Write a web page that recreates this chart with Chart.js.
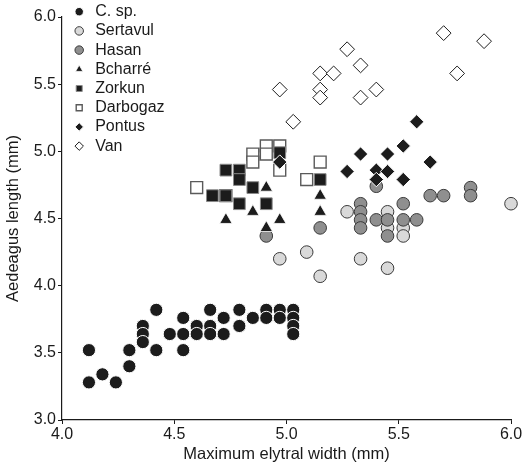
<!DOCTYPE html>
<html>
<head>
<meta charset="utf-8">
<script src="https://cdn.jsdelivr.net/npm/chart.js@4.4.1/dist/chart.umd.min.js"></script>
<style>
  html, body { margin: 0; padding: 0; background: #ffffff; }
  #wrap { width: 524px; height: 464px; }
</style>
</head>
<body>
<div id="wrap"><canvas id="c" width="524" height="464"></canvas></div>
<script>
// ---- data (x = maximum elytral width, y = aedeagus length, mm) ----
const seriesNames = ['C. sp.', 'Sertavul', 'Hasan', 'Bcharré', 'Zorkun', 'Darbogaz', 'Pontus', 'Van'];

const cSp = [[4.12,3.52],[4.12,3.28],[4.18,3.34],[4.24,3.28],[4.30,3.52],[4.30,3.40],[4.36,3.70],[4.36,3.64],[4.36,3.58],
  [4.42,3.82],[4.42,3.52],[4.48,3.64],[4.54,3.76],[4.54,3.64],[4.54,3.52],[4.60,3.70],[4.60,3.64],[4.66,3.82],[4.66,3.70],
  [4.66,3.64],[4.72,3.76],[4.72,3.64],[4.79,3.82],[4.79,3.70],[4.85,3.76],[4.91,3.82],[4.91,3.76],[4.97,3.82],[4.97,3.76],
  [5.03,3.82],[5.03,3.76],[5.03,3.70],[5.03,3.64]];
const sertavul = [[5.27,4.55],[5.09,4.25],[4.97,4.20],[5.15,4.07],[5.33,4.20],[5.45,4.13],[5.45,4.55],[5.45,4.43],
  [5.52,4.43],[5.52,4.37],[6.00,4.61]];
const hasan = [[4.91,4.37],[5.15,4.43],[5.40,4.74],[5.64,4.67],[5.70,4.67],[5.82,4.73],[5.82,4.67],[5.33,4.61],[5.33,4.55],
  [5.33,4.49],[5.33,4.43],[5.40,4.49],[5.45,4.49],[5.45,4.37],[5.52,4.61],[5.52,4.49],[5.58,4.49]];
const bcharre = [[4.73,4.49],[4.85,4.55],[4.91,4.73],[4.91,4.43],[4.97,4.49],[5.15,4.67],[5.15,4.55]];
const zorkun = [[4.73,4.86],[4.79,4.86],[4.79,4.79],[4.67,4.67],[4.73,4.67],[4.79,4.61],[4.85,4.73],[4.91,4.61],[4.97,4.99],[5.15,4.79]];
const darbogaz = [[4.60,4.73],[4.73,4.67],[4.85,4.98],[4.85,4.92],[4.91,5.04],[4.91,4.98],[4.97,5.04],[4.97,4.86],[5.15,4.92],[5.09,4.79]];
const pontus = [[4.97,4.92],[5.27,4.85],[5.33,4.98],[5.45,4.98],[5.52,5.04],[5.40,4.86],[5.45,4.85],[5.40,4.79],[5.52,4.79],[5.64,4.92],[5.58,5.22]];
const van = [[5.70,5.88],[5.88,5.82],[5.76,5.58],[5.27,5.76],[5.33,5.64],[5.15,5.58],[5.21,5.58],[5.15,5.46],[5.15,5.40],
  [4.97,5.46],[5.33,5.40],[5.40,5.46],[5.03,5.22]];

const xTickValues = [4.0, 4.5, 5.0, 5.5, 6.0];
const yTickValues = [3.0, 3.5, 4.0, 4.5, 5.0, 5.5, 6.0];
const xTitle = 'Maximum elytral width (mm)';
const yTitle = 'Aedeagus length (mm)';

// ---- chart ----
const FONT = "'Liberation Sans', Arial, Helvetica, sans-serif";
Chart.defaults.font.family = FONT;
Chart.defaults.font.size = 16;
Chart.defaults.color = '#1a1a1a';

const toPts = arr => arr.map(p => ({ x: p[0], y: p[1] }));

function ds(i, data, style, order) {
  return Object.assign({
    label: seriesNames[i],
    data: toPts(data),
    clip: false,
    order: order,
    pointHoverRadius: 6.5
  }, style);
}

const datasets = [
  ds(0, cSp,      { pointStyle: 'circle',   pointRadius: 6.6, backgroundColor: '#1c1c1c', borderColor: '#ffffff', borderWidth: 1 }, 7),
  ds(1, sertavul, { pointStyle: 'circle',   pointRadius: 6.3, backgroundColor: '#d9d9d9', borderColor: '#3a3a3a', borderWidth: 1 }, 6),
  ds(2, hasan,    { pointStyle: 'circle',   pointRadius: 6.3, backgroundColor: '#8f8f8f', borderColor: '#3a3a3a', borderWidth: 1 }, 5),
  ds(3, bcharre,  { pointStyle: 'triangle', pointRadius: 7.2, backgroundColor: '#1c1c1c', borderColor: '#ffffff', borderWidth: 0.8 }, 2),
  ds(4, zorkun,   { pointStyle: 'rect',     pointRadius: 8.3, backgroundColor: '#1c1c1c', borderColor: '#8a8a8a', borderWidth: 1 }, 1),
  ds(5, darbogaz, { pointStyle: 'rect',     pointRadius: 8.4, backgroundColor: '#ffffff', borderColor: '#5a5a5a', borderWidth: 1.4 }, 3),
  ds(6, pontus,   { pointStyle: 'rectRot',  pointRadius: 7.2, backgroundColor: '#1c1c1c', borderColor: '#ffffff', borderWidth: 1 }, 0),
  ds(7, van,      { pointStyle: 'rectRot',  pointRadius: 7.4, backgroundColor: '#ffffff', borderColor: '#1c1c1c', borderWidth: 1 }, 4)
];

const legendShift = {
  id: 'legendShift',
  afterLayout(chart) {
    if (chart.legend) { chart.legend.left += 6; chart.legend.top += 0.5; }
  }
};

new Chart(document.getElementById('c'), {
  type: 'scatter',
  data: { datasets },
  plugins: [legendShift],
  options: {
    responsive: false,
    animation: false,
    events: [],
    layout: { padding: { left: 0, top: 17, right: 13, bottom: 0 } },
    scales: {
      x: {
        type: 'linear', min: 4, max: 6,
        afterFit(s) { s.height = 44; },
        afterBuildTicks(s) { s.ticks = xTickValues.map(v => ({ value: v })); },
        ticks: { callback: v => Number(v).toFixed(1), padding: 1, color: '#1a1a1a', font: { size: 16 }, maxRotation: 0 },
        grid: { display: true, drawOnChartArea: false, drawTicks: true, tickLength: 4, color: '#1a1a1a', lineWidth: 1 },
        border: { display: true, color: '#1a1a1a', width: 1.2 },
        title: { display: true, text: xTitle, color: '#1a1a1a', font: { size: 16.5 }, padding: { top: 0, bottom: 0 } }
      },
      y: {
        type: 'linear', min: 3, max: 6,
        afterFit(s) { s.width = 62; },
        afterBuildTicks(s) { s.ticks = yTickValues.map(v => ({ value: v })); },
        ticks: { callback: v => Number(v).toFixed(1), padding: 2, color: '#1a1a1a', font: { size: 16 } },
        grid: { display: true, drawOnChartArea: false, drawTicks: true, tickLength: 4, color: '#1a1a1a', lineWidth: 1 },
        border: { display: true, color: '#1a1a1a', width: 1.2 },
        title: { display: true, text: yTitle, color: '#1a1a1a', font: { size: 16.5 }, padding: { top: 4, bottom: 0 } }
      }
    },
    plugins: {
      tooltip: { enabled: false },
      legend: {
        display: true,
        position: 'chartArea',
        align: 'start',
        labels: {
          usePointStyle: true,
          boxHeight: 6,
          padding: 3.2,
          color: '#1a1a1a',
          font: { size: 16 },
          sort: (a, b) => a.datasetIndex - b.datasetIndex
        }
      }
    }
  }
});
</script>
</body>
</html>
